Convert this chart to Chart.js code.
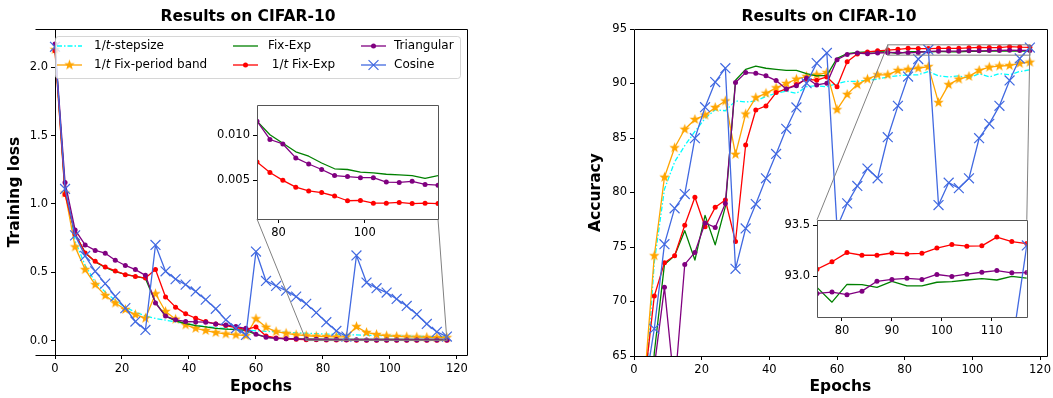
<!DOCTYPE html>
<html>
<head>
<meta charset="utf-8">
<title>Results on CIFAR-10</title>
<script src="https://cdn.jsdelivr.net/npm/chart.js"></script>
<style>
  html, body { margin: 0; padding: 0; background: #fff; }
  #page { position: relative; width: 1053px; height: 398px; overflow: hidden; }
  canvas { position: absolute; }
</style>
</head>
<body>
<div id="page">
  <canvas id="lossChart" width="527" height="398" style="left:0;top:0"></canvas>
  <canvas id="lossInset" width="245" height="150" style="left:205px;top:95px"></canvas>
  <canvas id="accChart" width="528" height="398" style="left:527px;top:0"></canvas>
  <canvas id="accInset" width="265" height="135" style="left:770px;top:210px"></canvas>
</div>
<script>
const EPOCHS = [0, 3, 6, 9, 12, 15, 18, 21, 24, 27, 30, 33, 36, 39, 42, 45, 48, 51, 54, 57,
  60, 63, 66, 69, 72, 75, 78, 81, 84, 87, 90, 93, 96, 99, 102, 105, 108, 111, 114, 117];

// training loss
const LOSS_STEPSIZE = [2.15, 1.1, 0.73, 0.55, 0.43, 0.355, 0.295, 0.245, 0.208, 0.18, 0.162, 0.15, 0.137, 0.125, 0.114, 0.103, 0.095, 0.088, 0.082, 0.077,
  0.072, 0.068, 0.064, 0.06, 0.057, 0.054, 0.051, 0.048, 0.046, 0.044, 0.042, 0.04, 0.038, 0.036, 0.034, 0.033, 0.031, 0.03, 0.029, 0.028];
const LOSS_BAND = [2.13, 1.08, 0.686, 0.52, 0.41, 0.33, 0.275, 0.228, 0.19, 0.164, 0.343, 0.213, 0.157, 0.115, 0.09, 0.074, 0.059, 0.049, 0.042, 0.037,
  0.16, 0.098, 0.066, 0.054, 0.042, 0.036, 0.032, 0.03, 0.028, 0.027, 0.103, 0.06, 0.045, 0.035, 0.031, 0.028, 0.026, 0.024, 0.023, 0.022];
const LOSS_FIXEXP = [2.15, 1.1, 0.78, 0.645, 0.575, 0.535, 0.505, 0.485, 0.47, 0.455, 0.28, 0.18, 0.145, 0.125, 0.11, 0.1, 0.09, 0.085, 0.08, 0.075,
  0.045, 0.025, 0.018, 0.015, 0.013, 0.01159, 0.01008, 0.00913, 0.00818, 0.00769, 0.00693, 0.00629, 0.00621, 0.00591, 0.00583, 0.00568, 0.00561, 0.00553, 0.00523, 0.00553];
const LOSS_T_FIXEXP = [2.12, 1.07, 0.78, 0.642, 0.58, 0.539, 0.51, 0.483, 0.47, 0.458, 0.52, 0.319, 0.245, 0.196, 0.164, 0.14, 0.122, 0.11, 0.096, 0.083,
  0.1, 0.034, 0.02, 0.014, 0.0095, 0.00705, 0.00587, 0.005, 0.00424, 0.00383, 0.00364, 0.00326, 0.00273, 0.00277, 0.00246, 0.00246, 0.00254, 0.00242, 0.00246, 0.00242];
const LOSS_TRIANGULAR = [2.17, 1.157, 0.81, 0.7, 0.66, 0.64, 0.588, 0.55, 0.52, 0.478, 0.275, 0.18, 0.152, 0.14, 0.137, 0.135, 0.122, 0.115, 0.103, 0.09,
  0.047, 0.025, 0.016, 0.014, 0.013, 0.01159, 0.00955, 0.00905, 0.0075, 0.00682, 0.00621, 0.00553, 0.00542, 0.0053, 0.0053, 0.00481, 0.00477, 0.00489, 0.00455, 0.00447];
const LOSS_COSINE = [2.15, 1.11, 0.77, 0.62, 0.507, 0.417, 0.324, 0.238, 0.14, 0.078, 0.7, 0.507, 0.45, 0.41, 0.36, 0.3, 0.233, 0.152, 0.09, 0.042,
  0.652, 0.437, 0.4, 0.366, 0.322, 0.269, 0.205, 0.135, 0.071, 0.03, 0.623, 0.425, 0.384, 0.352, 0.305, 0.254, 0.193, 0.122, 0.064, 0.03];

// test accuracy (%)
const ACC_STEPSIZE = [35, 60, 73.6, 80.3, 82.8, 84.3, 85.6, 86.8, 87.6, 87.5, 88.4, 88.3, 88.4, 88.8, 89.1, 89.3, 89.1, 89.7, 89.8, 89.7,
  90.0, 90.2, 90.2, 90.3, 90.4, 90.6, 90.7, 90.8, 90.8, 91.1, 90.7, 90.6, 90.7, 90.5, 90.9, 90.6, 90.9, 90.8, 91.1, 91.25];
const ACC_BAND = [35, 62.3, 74.2, 81.4, 84.1, 85.8, 86.7, 87.1, 87.8, 88.4, 83.5, 87.2, 88.7, 89.1, 89.6, 90.0, 90.4, 90.65, 90.8, 91.0,
  87.6, 89.0, 89.9, 90.4, 90.8, 90.8, 91.2, 91.3, 91.4, 91.55, 88.25, 89.9, 90.4, 90.65, 91.2, 91.5, 91.6, 91.65, 91.85, 91.95];
const ACC_FIXEXP = [30, 50, 65.3, 73.4, 74.2, 76.5, 73.8, 77.9, 75.2, 78.7, 90.3, 91.3, 91.6, 91.4, 91.3, 91.2, 91.2, 90.9, 90.7, 90.75,
  92.3, 92.75, 92.85, 92.9, 92.92, 92.889, 92.745, 92.92, 92.917, 92.889, 92.949, 92.904, 92.904, 92.94, 92.946, 92.962, 92.975, 92.962, 92.997, 92.98];
const ACC_T_FIXEXP = [30, 62.25, 70.5, 73.55, 74.2, 77.0, 79.56, 76.86, 78.64, 79.31, 75.5, 84.36, 87.57, 87.94, 89.17, 89.5, 89.9, 90.4, 90.3, 90.6,
  89.7, 92.0, 92.7, 92.9, 93.0, 93.067, 93.14, 93.23, 93.204, 93.204, 93.226, 93.217, 93.223, 93.274, 93.309, 93.293, 93.296, 93.382, 93.338, 93.318];
const ACC_TRIANGULAR = [30, 50, 64.0, 71.3, 62, 73.4, 74.5, 77.2, 76.8, 79.0, 90.1, 91.0, 90.95, 90.7, 90.27, 89.5, 89.8, 90.5, 89.87, 90.03,
  92.18, 92.67, 92.8, 92.73, 92.8, 92.831, 92.844, 92.818, 92.853, 92.949, 92.968, 92.978, 92.968, 93.016, 92.997, 93.019, 93.038, 93.054, 93.032, 93.035];
const ACC_COSINE = [30, 61.7, 67.5, 75.26, 78.55, 79.86, 84.98, 87.83, 90.13, 91.4, 73.0, 76.7, 78.94, 81.3, 83.54, 85.84, 87.8, 90.03, 91.87, 92.8,
  76.8, 79.0, 80.6, 82.2, 81.3, 85.07, 87.95, 90.64, 92.24, 93.1, 78.85, 80.9, 80.39, 81.3, 84.98, 86.3, 87.95, 90.28, 92.3, 93.3];

// axis ranges and ticks
const LOSS_X_RANGE = [0, 123];
const LOSS_FRAME_LEFT = -6;
const LOSS_Y_RANGE = [-0.105, 2.28];
const LOSS_X_TICKS = [0, 20, 40, 60, 80, 100, 120];
const LOSS_Y_TICKS = [0, 0.5, 1, 1.5, 2];
const LOSS_ZOOM_X = [75, 117];
const LOSS_ZOOM_Y = [0.0007, 0.0134];
const LOSS_ZOOM_X_TICKS = [80, 100];
const LOSS_ZOOM_Y_TICKS = [0.005, 0.01];

const ACC_X_RANGE = [0, 122];
const ACC_Y_RANGE = [65, 95];
const ACC_X_TICKS = [0, 20, 40, 60, 80, 100, 120];
const ACC_Y_TICKS = [65, 70, 75, 80, 85, 90, 95];
const ACC_ZOOM_X = [75, 117];
const ACC_ZOOM_Y = [92.6, 93.55];
const ACC_ZOOM_X_TICKS = [80, 90, 100, 110];
const ACC_ZOOM_Y_TICKS = [93, 93.5];
// the accuracy close-up only shows the last cosine cycle
const ACC_ZOOM_COSINE_FROM = 114;

const TITLE = 'Results on CIFAR-10';

// filled five-point star, like the matplotlib '*' marker
function starImage(color, r) {
  const c = document.createElement('canvas');
  const s = Math.ceil(r * 2 + 2);
  c.width = c.height = s;
  const g = c.getContext('2d');
  g.beginPath();
  for (let i = 0; i < 10; i++) {
    const rad = i % 2 ? r * 0.42 : r;
    const a = -Math.PI / 2 + i * Math.PI / 5;
    g.lineTo(s / 2 + rad * Math.cos(a), s / 2 + rad * Math.sin(a));
  }
  g.closePath();
  g.fillStyle = color;
  g.fill();
  return c;
}

const SERIES = [
  { label: ['1/', 't', '-stepsize'], color: '#00ffff', dash: [5, 2, 1.5, 2], marker: null, radius: 0 },
  { label: ['1/', 't', ' Fix-period band'], color: '#ffa500', marker: 'star', radius: 5 },
  { label: ['Fix-Exp'], color: '#008000', marker: null, radius: 0 },
  { label: [' 1/', 't', ' Fix-Exp'], color: '#ff0000', marker: 'circle', radius: 2.5 },
  { label: ['Triangular'], color: '#800080', marker: 'circle', radius: 2.5 },
  { label: ['Cosine'], color: '#4169e1', marker: 'crossRot', radius: 7 }
];
const STAR = starImage('#ffa500', 5.5);

const LOSS = [LOSS_STEPSIZE, LOSS_BAND, LOSS_FIXEXP, LOSS_T_FIXEXP, LOSS_TRIANGULAR, LOSS_COSINE];
const ACC = [ACC_STEPSIZE, ACC_BAND, ACC_FIXEXP, ACC_T_FIXEXP, ACC_TRIANGULAR, ACC_COSINE];

Chart.defaults.font.family = '"DejaVu Sans", sans-serif';
Chart.defaults.font.size = 11.5;
Chart.defaults.color = '#000';

function pointStyleOf(s) {
  if (s.marker === 'star') return STAR;
  return s.marker || 'circle';
}

function makeDataset(s, i, values, clip, fromEpoch) {
  const pts = EPOCHS.map((x, k) => ({ x: x, y: values[k] }))
    .filter(p => fromEpoch === undefined || p.x >= fromEpoch);
  const ds = {
    label: s.label.join(''),
    data: pts,
    borderColor: s.color,
    backgroundColor: s.color,
    borderWidth: 1.3,
    borderDash: s.dash || [],
    borderJoinStyle: 'round',
    pointStyle: pointStyleOf(s),
    pointRadius: s.radius,
    pointBorderWidth: s.marker === 'crossRot' ? 1.2 : 0,
    pointBackgroundColor: s.color,
    pointBorderColor: s.color,
    order: SERIES.length - i
  };
  if (clip !== undefined) ds.clip = clip;
  return ds;
}

function scaleOpts(range, tickValues, digits, fit, title, titlePad) {
  return {
    type: 'linear',
    min: range[0],
    max: range[1],
    afterBuildTicks: s => { s.ticks = tickValues.map(v => ({ value: v })); },
    afterFit: fit,
    ticks: { callback: v => Number(v).toFixed(digits), padding: 3, maxRotation: 0, autoSkip: false },
    grid: { drawOnChartArea: false, drawTicks: true, tickLength: 4, tickColor: '#000' },
    border: { display: false },
    title: title
      ? { display: true, text: title, color: '#000', font: { size: 15.5, weight: 'bold' }, padding: titlePad }
      : { display: false }
  };
}

function drawSpines(ctx, frameLeft, top, right, bottom, spineX, color) {
  const c = v => Math.round(v) + 0.5;
  ctx.save();
  ctx.strokeStyle = color;
  ctx.lineWidth = 1;
  ctx.beginPath();
  ctx.moveTo(c(frameLeft), c(top));
  ctx.lineTo(c(right), c(top));
  ctx.lineTo(c(right), c(bottom));
  ctx.lineTo(c(frameLeft), c(bottom));
  ctx.moveTo(c(spineX), c(top));
  ctx.lineTo(c(spineX), c(bottom));
  ctx.stroke();
  ctx.restore();
}

function drawTitle(ctx, x, y) {
  ctx.save();
  ctx.font = 'bold 15.5px "DejaVu Sans"';
  ctx.fillStyle = '#000';
  ctx.textAlign = 'center';
  ctx.textBaseline = 'middle';
  ctx.fillText(TITLE, x, y);
  ctx.restore();
}

// grey box around the zoomed region plus the two connector lines to the inset
function zoomMarks(chart, inset, offX, offY, fromTop) {
  const { ctx, scales: { x, y } } = chart;
  const a = inset.chartArea;
  const x0 = x.getPixelForValue(inset.scales.x.min);
  const x1 = x.getPixelForValue(inset.scales.x.max);
  const y0 = y.getPixelForValue(inset.scales.y.max);
  const y1 = y.getPixelForValue(inset.scales.y.min);
  ctx.save();
  ctx.strokeStyle = '#808080';
  ctx.lineWidth = 1;
  ctx.strokeRect(x0, y0, x1 - x0, y1 - y0);
  ctx.beginPath();
  if (fromTop) {
    ctx.moveTo(a.left + offX, a.top + offY); ctx.lineTo(x0, y0);
    ctx.moveTo(a.right + offX, a.top + offY); ctx.lineTo(x1, y0);
  } else {
    ctx.moveTo(a.left + offX, a.bottom + offY); ctx.lineTo(x0, y1);
    ctx.moveTo(a.right + offX, a.bottom + offY); ctx.lineTo(x1, y1);
  }
  ctx.stroke();
  ctx.restore();
}

const LEGEND_BOX = [55.5, 36.5, 405, 42];
const LEGEND_HANDLE_X = [57, 233, 361];
const LEGEND_TEXT_X = [94, 268, 394];
const LEGEND_ROW_Y = [46, 65];

function drawLegend(ctx) {
  ctx.save();
  const [bx, by, bw, bh] = LEGEND_BOX;
  ctx.beginPath();
  if (ctx.roundRect) ctx.roundRect(bx, by, bw, bh, 3); else ctx.rect(bx, by, bw, bh);
  ctx.fillStyle = 'rgba(255,255,255,0.8)';
  ctx.fill();
  ctx.strokeStyle = 'rgba(204,204,204,0.8)';
  ctx.lineWidth = 1;
  ctx.stroke();

  SERIES.forEach((s, i) => {
    const col = Math.floor(i / 2);
    const hx = LEGEND_HANDLE_X[col];
    const y = LEGEND_ROW_Y[i % 2];
    ctx.strokeStyle = s.color;
    ctx.fillStyle = s.color;
    ctx.lineWidth = 1.3;
    ctx.setLineDash(s.dash || []);
    ctx.beginPath();
    ctx.moveTo(hx, y);
    ctx.lineTo(hx + 25, y);
    ctx.stroke();
    ctx.setLineDash([]);
    if (s.marker) {
      ctx.lineWidth = 1.2;
      Chart.helpers.drawPoint(ctx, {
        pointStyle: pointStyleOf(s), radius: s.radius,
        borderWidth: s.marker === 'crossRot' ? 1.2 : 0, rotation: 0
      }, hx + 12.5, y);
    }
    let tx = LEGEND_TEXT_X[col];
    ctx.fillStyle = '#000';
    ctx.textAlign = 'left';
    ctx.textBaseline = 'middle';
    s.label.forEach((part, k) => {
      ctx.font = (k === 1 ? 'italic ' : '') + '12px "DejaVu Sans"';
      ctx.fillText(part, tx, y);
      tx += ctx.measureText(part).width;
    });
  });
  ctx.restore();
}

const insetFrame = {
  id: 'insetFrame',
  beforeDraw(chart) {
    const { ctx, chartArea: a } = chart;
    ctx.save();
    ctx.fillStyle = '#fff';
    ctx.fillRect(a.left, a.top, a.right - a.left, a.bottom - a.top);
    ctx.restore();
  },
  afterDraw(chart) {
    const { ctx, chartArea: a } = chart;
    drawSpines(ctx, a.left, a.top, a.right, a.bottom, a.left, '#555');
  }
};

function insetChart(id, datasets, xr, yr, xt, yt, yDigits, xFit, yFit, pad) {
  return new Chart(document.getElementById(id), {
    type: 'line',
    data: { datasets: datasets },
    options: {
      responsive: false, animation: false, events: [],
      layout: { padding: pad },
      plugins: { legend: { display: false }, tooltip: { enabled: false } },
      scales: {
        x: scaleOpts(xr, xt, 0, xFit),
        y: scaleOpts(yr, yt, yDigits, yFit)
      }
    },
    plugins: [insetFrame]
  });
}

const lossInset = insetChart('lossInset',
  SERIES.map((s, i) => makeDataset(s, i, LOSS[i])),
  LOSS_ZOOM_X, LOSS_ZOOM_Y, LOSS_ZOOM_X_TICKS, LOSS_ZOOM_Y_TICKS, 3,
  s => { s.height = 26; }, s => { s.width = 52; }, { left: 0, right: 12, top: 9, bottom: 0 });

const accInset = insetChart('accInset',
  SERIES.map((s, i) => makeDataset(s, i, ACC[i], undefined,
    s.label[0] === 'Cosine' ? ACC_ZOOM_COSINE_FROM : undefined)),
  ACC_ZOOM_X, ACC_ZOOM_Y, ACC_ZOOM_X_TICKS, ACC_ZOOM_Y_TICKS, 1,
  s => { s.height = 28; }, s => { s.width = 47; }, { left: 0, right: 8, top: 9, bottom: 0 });

new Chart(document.getElementById('lossChart'), {
  type: 'line',
  data: { datasets: SERIES.map((s, i) => makeDataset(s, i, LOSS[i], false)) },
  options: {
    responsive: false, animation: false, events: [],
    layout: { padding: { left: 0, right: 60, top: 29, bottom: 0 } },
    plugins: { legend: { display: false }, tooltip: { enabled: false } },
    scales: {
      x: scaleOpts(LOSS_X_RANGE, LOSS_X_TICKS, 0, s => { s.height = 43; }, 'Epochs', { top: 0, bottom: 2 }),
      y: scaleOpts(LOSS_Y_RANGE, LOSS_Y_TICKS, 1, s => { s.width = 55; }, 'Training loss', { top: 6, bottom: 0 })
    }
  },
  plugins: [{
    id: 'lossDecor',
    afterDatasetsDraw(chart) { zoomMarks(chart, lossInset, 205, 95, false); },
    afterDraw(chart) {
      const { ctx, chartArea: a, scales: { x } } = chart;
      drawSpines(ctx, x.getPixelForValue(LOSS_FRAME_LEFT), a.top, a.right, a.bottom, a.left, '#000');
      drawTitle(ctx, 248, 16.5);
      drawLegend(ctx);
    }
  }]
});

new Chart(document.getElementById('accChart'), {
  type: 'line',
  data: { datasets: SERIES.map((s, i) => makeDataset(s, i, ACC[i])) },
  options: {
    responsive: false, animation: false, events: [],
    layout: { padding: { left: 60, right: 4, top: 29, bottom: 0 } },
    plugins: { legend: { display: false }, tooltip: { enabled: false } },
    scales: {
      x: scaleOpts(ACC_X_RANGE, ACC_X_TICKS, 0, s => { s.height = 42; }, 'Epochs', { top: 0, bottom: 2 }),
      y: scaleOpts(ACC_Y_RANGE, ACC_Y_TICKS, 0, s => { s.width = 47; }, 'Accuracy', { top: 0, bottom: 0 })
    }
  },
  plugins: [{
    id: 'accDecor',
    afterDatasetsDraw(chart) { zoomMarks(chart, accInset, 770 - 527, 210, true); },
    afterDraw(chart) {
      const { ctx, chartArea: a } = chart;
      drawSpines(ctx, a.left, a.top, a.right, a.bottom, a.left, '#000');
      drawTitle(ctx, 302, 16.5);
    }
  }]
});
</script>
</body>
</html>
